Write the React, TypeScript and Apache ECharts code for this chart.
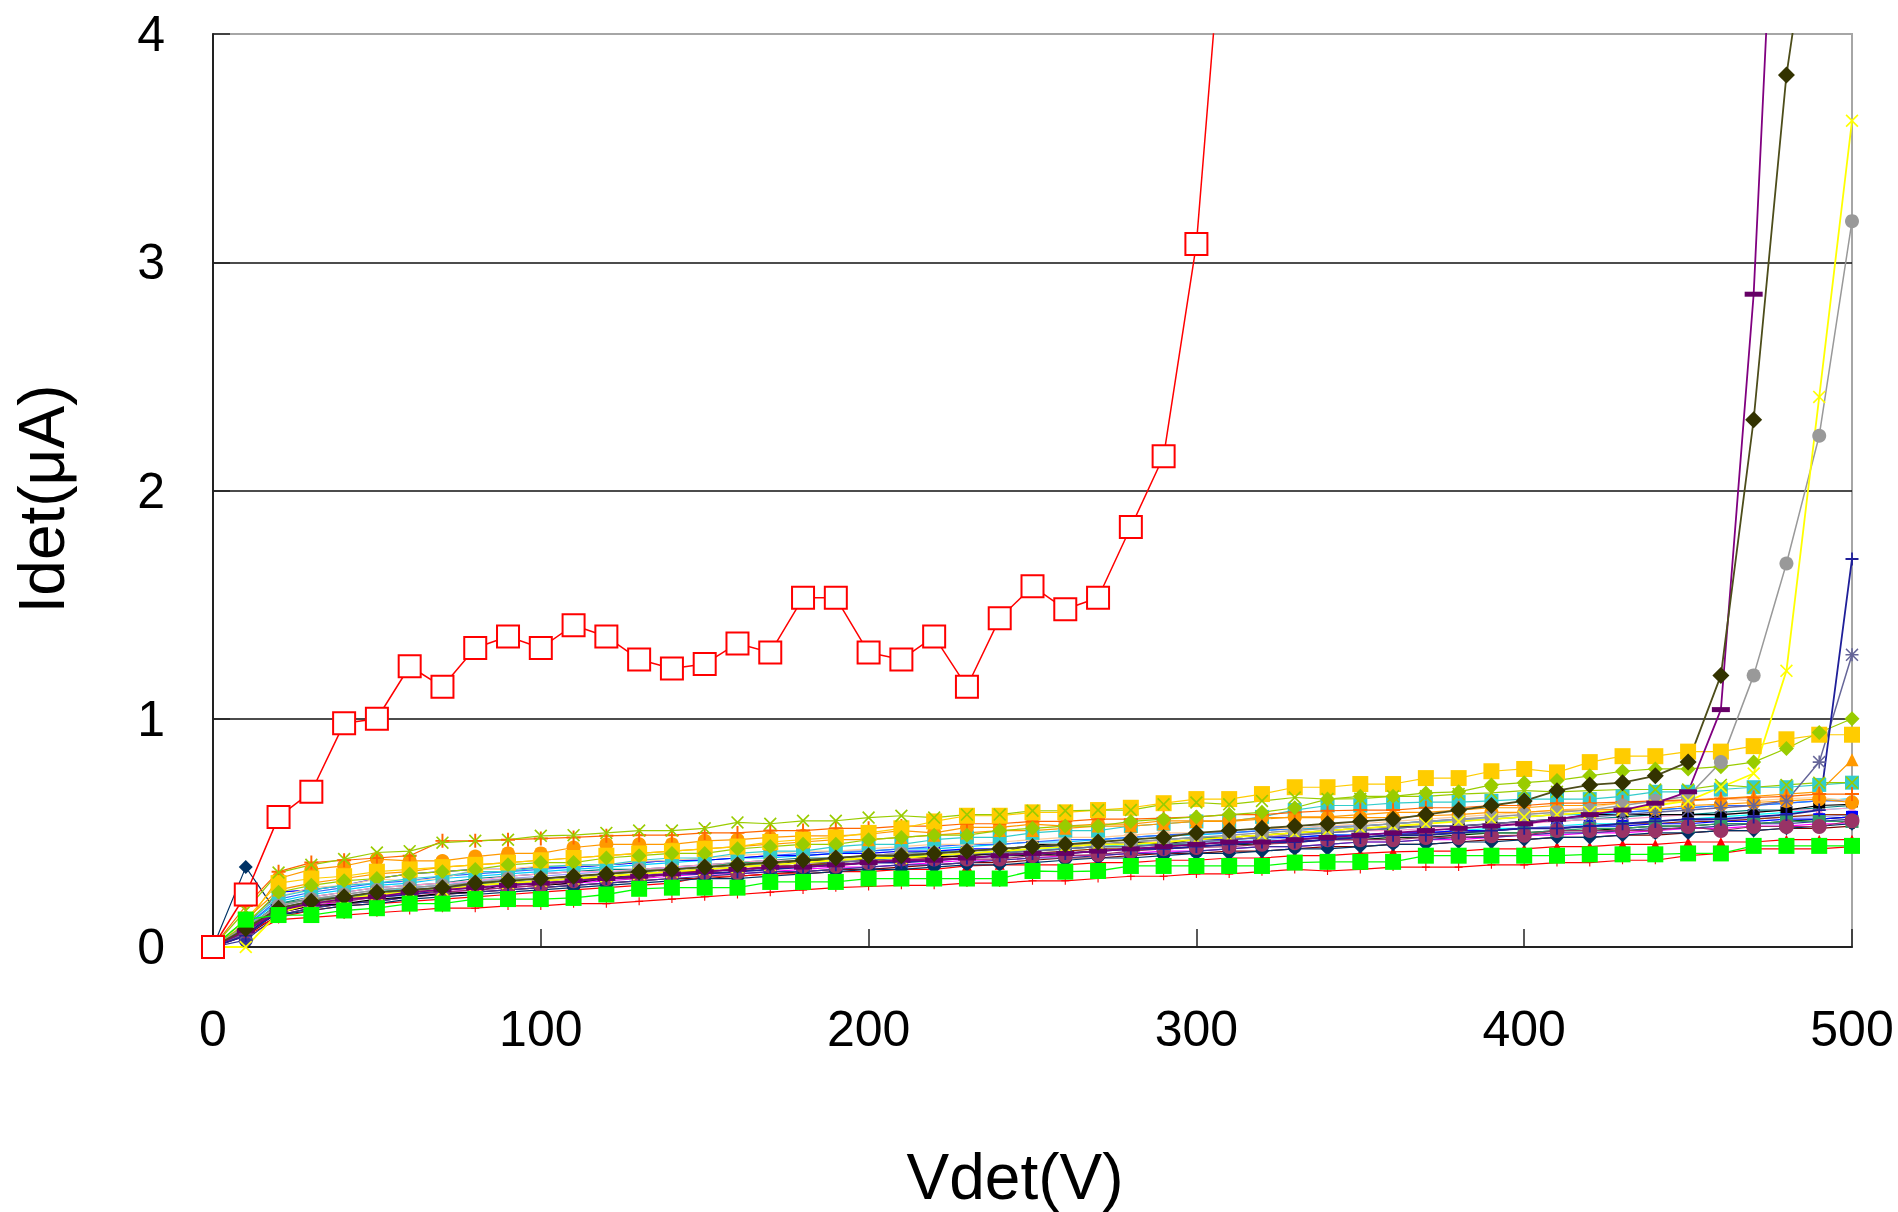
import React, { useEffect, useRef } from "react";
import * as echarts from "echarts";

// Vdet (V) sampling points
const X = [0,10,20,30,40,50,60,70,80,90,100,110,120,130,140,150,160,170,180,190,200,210,220,230,240,250,260,270,280,290,300,310,320,330,340,350,360,370,380,390,400,410,420,430,440,450,460,470,480,490,500];
const X_TICKS = [0, 100, 200, 300, 400, 500];
const Y_TICKS = [0, 1, 2, 3, 4];
const X_TITLE = "Vdet(V)";
const Y_TITLE = "Idet(μA)";

// Idet (uA) per detector
const redSq = [0,0.23,0.57,0.68,0.98,1.00,1.23,1.14,1.31,1.36,1.31,1.41,1.36,1.26,1.22,1.24,1.33,1.29,1.53,1.53,1.29,1.26,1.36,1.14,1.44,1.58,1.48,1.53,1.84,2.15,3.08,4.85];
const greenSq = [0,0.12,0.14,0.14,0.16,0.17,0.19,0.19,0.21,0.21,0.21,0.215,0.23,0.255,0.26,0.26,0.26,0.285,0.285,0.285,0.30,0.30,0.30,0.30,0.30,0.333,0.33,0.333,0.355,0.355,0.355,0.355,0.355,0.37,0.373,0.373,0.373,0.40,0.40,0.40,0.40,0.40,0.406,0.406,0.406,0.41,0.41,0.443,0.443,0.443,0.443];
const plum = [0,0.07,0.17,0.19,0.20,0.22,0.23,0.24,0.25,0.26,0.27,0.29,0.30,0.30,0.32,0.326,0.326,0.355,0.355,0.355,0.37,0.385,0.385,0.385,0.385,0.40,0.40,0.405,0.42,0.43,0.436,0.44,0.45,0.457,0.47,0.47,0.47,0.48,0.48,0.487,0.49,0.51,0.51,0.51,0.51,0.528,0.51,0.528,0.528,0.528,0.553];
const blackDash = [0,0.06,0.15,0.18,0.19,0.21,0.22,0.235,0.24,0.28,0.27,0.28,0.30,0.32,0.33,0.34,0.35,0.36,0.377,0.38,0.385,0.39,0.395,0.40,0.41,0.45,0.45,0.45,0.46,0.45,0.472,0.48,0.49,0.50,0.51,0.52,0.528,0.53,0.53,0.54,0.55,0.56,0.58,0.58,0.58,0.58,0.58,0.59,0.60,0.62,0.625];
const turq = [0,0.10,0.22,0.25,0.27,0.28,0.30,0.31,0.33,0.33,0.35,0.36,0.36,0.38,0.39,0.39,0.41,0.42,0.42,0.44,0.45,0.45,0.47,0.48,0.48,0.50,0.51,0.51,0.53,0.54,0.55,0.55,0.57,0.60,0.62,0.62,0.63,0.635,0.635,0.64,0.648,0.648,0.648,0.66,0.68,0.68,0.69,0.70,0.70,0.71,0.72];
const orangeCircle = [0,0.10,0.30,0.34,0.355,0.385,0.377,0.377,0.396,0.41,0.41,0.436,0.45,0.45,0.45,0.465,0.47,0.48,0.487,0.487,0.494,0.51,0.50,0.524,0.524,0.538,0.53,0.538,0.538,0.553,0.553,0.553,0.567,0.567,0.567,0.567,0.567,0.575,0.58,0.59,0.59,0.60,0.60,0.604,0.604,0.62,0.625,0.633,0.64,0.648,0.633];
const orangePlus = [0,0.18,0.33,0.37,0.38,0.39,0.40,0.465,0.465,0.47,0.475,0.48,0.487,0.49,0.49,0.50,0.50,0.51,0.51,0.52,0.52,0.53,0.53,0.54,0.54,0.55,0.55,0.56,0.56,0.565,0.57,0.58,0.58,0.59,0.597,0.60,0.60,0.61,0.61,0.62,0.62,0.63,0.63,0.635,0.64,0.645,0.65,0.655,0.66,0.67,0.67];
const limeX = [0,0.16,0.326,0.36,0.385,0.414,0.42,0.457,0.465,0.47,0.487,0.49,0.50,0.51,0.51,0.52,0.546,0.54,0.553,0.553,0.567,0.575,0.567,0.58,0.58,0.597,0.597,0.60,0.60,0.625,0.633,0.625,0.64,0.655,0.648,0.65,0.66,0.66,0.67,0.675,0.685,0.68,0.685,0.69,0.69,0.69,0.71,0.70,0.71,0.72,0.72];
const goldSq = [0,0.12,0.28,0.30,0.31,0.33,0.34,0.35,0.36,0.37,0.38,0.39,0.40,0.41,0.42,0.43,0.44,0.46,0.47,0.48,0.50,0.52,0.55,0.575,0.575,0.59,0.59,0.60,0.61,0.63,0.648,0.648,0.67,0.70,0.70,0.714,0.714,0.74,0.74,0.77,0.78,0.765,0.81,0.836,0.836,0.856,0.856,0.88,0.91,0.93,0.93];
const limeDiamond = [0,0.10,0.24,0.27,0.29,0.30,0.32,0.33,0.34,0.36,0.37,0.37,0.39,0.40,0.41,0.41,0.43,0.44,0.45,0.45,0.47,0.48,0.49,0.49,0.51,0.52,0.53,0.53,0.55,0.56,0.57,0.58,0.59,0.61,0.648,0.66,0.66,0.675,0.68,0.71,0.72,0.73,0.75,0.77,0.78,0.78,0.79,0.81,0.87,0.94,1.00];
const oliveDiamond = [0,0.08,0.17,0.20,0.22,0.24,0.25,0.26,0.28,0.29,0.30,0.31,0.32,0.33,0.34,0.35,0.36,0.37,0.38,0.39,0.40,0.40,0.41,0.42,0.43,0.44,0.45,0.46,0.47,0.48,0.50,0.51,0.52,0.53,0.54,0.55,0.56,0.58,0.60,0.62,0.64,0.685,0.71,0.72,0.75,0.81,1.19,2.31,3.82,4.80];
const purpleDash = [0,0.07,0.16,0.19,0.21,0.22,0.24,0.25,0.26,0.27,0.28,0.29,0.30,0.31,0.32,0.33,0.34,0.35,0.35,0.36,0.37,0.38,0.38,0.39,0.40,0.41,0.41,0.42,0.43,0.44,0.45,0.46,0.46,0.47,0.48,0.49,0.50,0.51,0.52,0.53,0.54,0.56,0.58,0.60,0.63,0.68,1.04,2.86,5.86];
const grayCircle = [0,0.09,0.18,0.21,0.23,0.25,0.26,0.27,0.28,0.30,0.30,0.31,0.32,0.34,0.34,0.35,0.36,0.37,0.38,0.39,0.40,0.41,0.41,0.42,0.43,0.44,0.45,0.45,0.46,0.47,0.48,0.49,0.50,0.51,0.52,0.53,0.54,0.55,0.56,0.57,0.58,0.59,0.60,0.62,0.64,0.66,0.81,1.19,1.68,2.24,3.18];
const yellowX = [0,0,0.15,0.19,0.21,0.23,0.24,0.25,0.27,0.28,0.29,0.30,0.31,0.32,0.33,0.34,0.35,0.36,0.37,0.38,0.39,0.39,0.40,0.41,0.42,0.43,0.44,0.45,0.45,0.46,0.47,0.48,0.49,0.50,0.51,0.52,0.53,0.54,0.55,0.56,0.57,0.58,0.59,0.60,0.62,0.64,0.70,0.76,1.21,2.41,3.62];
const navyPlus = [0,0.05,0.16,0.19,0.21,0.22,0.23,0.25,0.26,0.27,0.28,0.29,0.30,0.31,0.32,0.32,0.33,0.34,0.35,0.36,0.37,0.37,0.38,0.39,0.40,0.41,0.41,0.42,0.43,0.43,0.44,0.45,0.46,0.46,0.47,0.48,0.49,0.49,0.50,0.51,0.52,0.52,0.53,0.54,0.55,0.56,0.56,0.57,0.58,0.60,1.70];
const slateStar = [0,0.06,0.17,0.20,0.22,0.24,0.25,0.26,0.27,0.28,0.29,0.30,0.31,0.32,0.33,0.34,0.35,0.36,0.37,0.37,0.38,0.39,0.40,0.41,0.41,0.42,0.43,0.44,0.44,0.45,0.46,0.47,0.48,0.49,0.50,0.51,0.52,0.53,0.53,0.54,0.55,0.56,0.57,0.58,0.59,0.60,0.61,0.62,0.64,0.81,1.28];
const orangeTri = [0,0.12,0.25,0.28,0.30,0.32,0.33,0.35,0.36,0.37,0.38,0.39,0.40,0.41,0.42,0.43,0.44,0.45,0.46,0.47,0.47,0.48,0.49,0.50,0.51,0.51,0.52,0.53,0.53,0.54,0.55,0.55,0.56,0.57,0.57,0.58,0.59,0.59,0.60,0.61,0.61,0.62,0.62,0.63,0.64,0.64,0.65,0.66,0.67,0.68,0.82];
const navyDiamond = [0,0.35,0.14,0.16,0.18,0.19,0.21,0.22,0.23,0.24,0.25,0.26,0.27,0.28,0.29,0.30,0.30,0.31,0.32,0.33,0.34,0.34,0.35,0.36,0.36,0.37,0.38,0.39,0.39,0.40,0.41,0.41,0.42,0.43,0.43,0.44,0.45,0.45,0.46,0.46,0.47,0.48,0.48,0.49,0.50,0.50,0.51,0.51,0.52,0.53,0.54];
const indigoCircle = [0,0.03,0.14,0.17,0.19,0.20,0.22,0.23,0.24,0.25,0.26,0.27,0.28,0.29,0.30,0.31,0.32,0.33,0.33,0.34,0.35,0.36,0.36,0.37,0.38,0.39,0.39,0.40,0.41,0.41,0.42,0.43,0.44,0.44,0.45,0.46,0.46,0.47,0.48,0.48,0.49,0.50,0.50,0.51,0.52,0.52,0.53,0.54,0.54,0.55,0.56];
const blueSq = [0,0.09,0.24,0.25,0.27,0.30,0.32,0.33,0.34,0.34,0.35,0.35,0.36,0.37,0.38,0.38,0.39,0.40,0.40,0.41,0.41,0.42,0.42,0.43,0.43,0.44,0.44,0.45,0.45,0.46,0.47,0.47,0.48,0.48,0.49,0.49,0.50,0.50,0.51,0.51,0.52,0.52,0.53,0.53,0.54,0.54,0.55,0.55,0.56,0.56,0.57];
const peach = [0,0.11,0.22,0.26,0.27,0.297,0.29,0.30,0.34,0.34,0.355,0.355,0.36,0.375,0.38,0.39,0.40,0.41,0.42,0.42,0.43,0.44,0.45,0.45,0.46,0.47,0.48,0.48,0.49,0.50,0.50,0.51,0.52,0.52,0.53,0.54,0.55,0.56,0.57,0.58,0.59,0.60,0.61,0.633,0.633,0.64,0.65,0.64,0.65,0.655,0.64];
const seaGreenSq = [0,0.08,0.19,0.21,0.22,0.23,0.245,0.26,0.27,0.297,0.30,0.31,0.32,0.33,0.34,0.35,0.37,0.37,0.38,0.38,0.39,0.40,0.40,0.41,0.42,0.42,0.43,0.44,0.44,0.45,0.45,0.46,0.46,0.47,0.48,0.48,0.49,0.49,0.50,0.50,0.50,0.51,0.52,0.52,0.53,0.53,0.54,0.54,0.55,0.55,0.55];
const redTri = [0,0.07,0.13,0.16,0.18,0.19,0.20,0.21,0.22,0.23,0.24,0.25,0.26,0.27,0.28,0.31,0.31,0.32,0.32,0.33,0.33,0.34,0.34,0.355,0.36,0.36,0.36,0.37,0.37,0.38,0.38,0.39,0.39,0.40,0.40,0.41,0.417,0.42,0.42,0.43,0.43,0.44,0.44,0.45,0.45,0.46,0.46,0.46,0.47,0.47,0.47];
const redLow = [0,0.05,0.12,0.13,0.14,0.15,0.16,0.17,0.17,0.18,0.18,0.19,0.19,0.20,0.21,0.22,0.23,0.24,0.25,0.26,0.265,0.27,0.27,0.28,0.28,0.29,0.29,0.30,0.31,0.31,0.32,0.32,0.33,0.34,0.333,0.34,0.35,0.35,0.35,0.36,0.36,0.37,0.37,0.38,0.38,0.40,0.41,0.43,0.43,0.43,0.44];
const cyanLine = [0,0.07,0.17,0.20,0.22,0.24,0.26,0.27,0.28,0.29,0.30,0.31,0.32,0.33,0.34,0.35,0.36,0.36,0.37,0.38,0.39,0.40,0.40,0.41,0.42,0.43,0.43,0.44,0.45,0.45,0.46,0.46,0.47,0.48,0.49,0.49,0.50,0.50,0.51,0.52,0.52,0.53,0.54,0.54,0.55,0.56,0.57,0.58,0.59,0.60,0.61];
const magentaLine = [0,0.06,0.15,0.18,0.20,0.22,0.23,0.24,0.25,0.26,0.27,0.28,0.29,0.30,0.31,0.32,0.32,0.33,0.34,0.35,0.35,0.36,0.37,0.38,0.38,0.39,0.40,0.40,0.41,0.42,0.42,0.43,0.44,0.44,0.45,0.46,0.46,0.47,0.47,0.48,0.49,0.49,0.50,0.50,0.51,0.52,0.52,0.53,0.53,0.54,0.54];
const maroonLine = [0,0.05,0.14,0.17,0.19,0.20,0.22,0.23,0.24,0.25,0.26,0.27,0.28,0.29,0.30,0.30,0.31,0.32,0.33,0.34,0.34,0.35,0.36,0.37,0.37,0.38,0.39,0.39,0.40,0.41,0.41,0.42,0.42,0.43,0.44,0.44,0.45,0.45,0.46,0.47,0.47,0.48,0.48,0.49,0.49,0.50,0.51,0.51,0.52,0.52,0.53];
const tealLine = [0,0.08,0.19,0.22,0.24,0.26,0.27,0.28,0.30,0.31,0.32,0.33,0.34,0.34,0.35,0.36,0.37,0.38,0.39,0.39,0.40,0.41,0.42,0.42,0.43,0.44,0.45,0.45,0.46,0.47,0.48,0.48,0.49,0.50,0.50,0.51,0.52,0.53,0.53,0.54,0.55,0.55,0.56,0.57,0.58,0.58,0.59,0.60,0.60,0.61,0.62];
const skyLine = [0,0.09,0.20,0.23,0.25,0.27,0.28,0.30,0.31,0.32,0.33,0.34,0.35,0.36,0.37,0.38,0.39,0.39,0.40,0.41,0.42,0.43,0.43,0.44,0.45,0.46,0.46,0.47,0.48,0.49,0.49,0.50,0.51,0.52,0.52,0.53,0.54,0.55,0.55,0.56,0.57,0.58,0.58,0.59,0.60,0.61,0.62,0.62,0.63,0.64,0.65];
const lavenderLine = [0,0.07,0.18,0.21,0.23,0.25,0.26,0.27,0.29,0.30,0.31,0.32,0.33,0.33,0.35,0.35,0.36,0.37,0.38,0.38,0.39,0.40,0.40,0.41,0.42,0.42,0.43,0.44,0.44,0.45,0.46,0.46,0.47,0.48,0.48,0.49,0.50,0.50,0.51,0.51,0.52,0.53,0.53,0.54,0.54,0.55,0.56,0.56,0.57,0.57,0.58];
const forestLine = [0,0.06,0.16,0.19,0.21,0.23,0.24,0.25,0.27,0.28,0.29,0.30,0.30,0.31,0.32,0.33,0.34,0.35,0.36,0.36,0.37,0.38,0.38,0.39,0.40,0.40,0.41,0.42,0.43,0.43,0.44,0.45,0.45,0.46,0.47,0.47,0.48,0.48,0.49,0.50,0.50,0.51,0.51,0.52,0.53,0.53,0.54,0.54,0.55,0.56,0.57];
const brownLine = [0,0.07,0.17,0.19,0.21,0.23,0.25,0.26,0.27,0.28,0.29,0.30,0.31,0.32,0.33,0.33,0.34,0.35,0.36,0.37,0.38,0.38,0.39,0.40,0.41,0.41,0.42,0.43,0.43,0.44,0.45,0.46,0.46,0.47,0.48,0.48,0.49,0.50,0.50,0.51,0.52,0.52,0.53,0.54,0.54,0.55,0.55,0.56,0.57,0.58,0.58];
const royalLine = [0,0.09,0.21,0.24,0.26,0.28,0.29,0.31,0.32,0.33,0.34,0.35,0.36,0.37,0.38,0.38,0.39,0.40,0.41,0.42,0.42,0.43,0.44,0.45,0.45,0.46,0.47,0.47,0.48,0.49,0.50,0.50,0.51,0.52,0.53,0.53,0.54,0.55,0.56,0.56,0.57,0.58,0.59,0.59,0.60,0.61,0.62,0.62,0.63,0.64,0.64];
const pinkLine = [0,0.08,0.18,0.22,0.24,0.26,0.27,0.28,0.29,0.31,0.32,0.33,0.33,0.34,0.35,0.36,0.37,0.38,0.38,0.39,0.40,0.41,0.41,0.42,0.43,0.44,0.44,0.45,0.46,0.46,0.47,0.48,0.49,0.49,0.50,0.51,0.51,0.52,0.53,0.54,0.54,0.55,0.56,0.56,0.57,0.58,0.58,0.59,0.60,0.60,0.61];

const SYM_X = "path://M0,0.9L0.9,0L5,4.1L9.1,0L10,0.9L5.9,5L10,9.1L9.1,10L5,5.9L0.9,10L0,9.1L4.1,5Z";
const SYM_PLUS = "path://M4.3,0H5.7V4.3H10V5.7H5.7V10H4.3V5.7H0V4.3H4.3Z";
const SYM_STAR = "path://M4.4,0H5.6V4.4H10V5.6H5.6V10H4.4V5.6H0V4.4H4.4Z M0,0.8L0.8,0L5,4.2L9.2,0L10,0.8L5.8,5L10,9.2L9.2,10L5,5.8L0.8,10L0,9.2L4.2,5Z";

type Spec = { name: string; data: number[]; color: string; symbol: string; size: number | number[]; width: number; fill?: string; border?: number };

const SPECS: Spec[] = [
  { name: "cyan", data: cyanLine, color: "#00FFFF", symbol: "triangle", size: 6, width: 1.2 },
  { name: "magenta", data: magentaLine, color: "#FF00FF", symbol: "rect", size: 6, width: 1.2 },
  { name: "maroon", data: maroonLine, color: "#800000", symbol: "triangle", size: 6, width: 1.2 },
  { name: "teal", data: tealLine, color: "#008080", symbol: "circle", size: 6, width: 1.2 },
  { name: "sky", data: skyLine, color: "#00CCFF", symbol: "rect", size: 6, width: 1.2 },
  { name: "lavender", data: lavenderLine, color: "#9999FF", symbol: SYM_STAR, size: 9, width: 1.2 },
  { name: "forest", data: forestLine, color: "#003300", symbol: "diamond", size: 7, width: 1.2 },
  { name: "brown", data: brownLine, color: "#993300", symbol: "rect", size: 6, width: 1.2 },
  { name: "royal", data: royalLine, color: "#3366FF", symbol: SYM_X, size: 9, width: 1.2 },
  { name: "pink", data: pinkLine, color: "#FF99CC", symbol: "triangle", size: 7, width: 1.2 },
  { name: "redLow", data: redLow, color: "#FF0000", symbol: SYM_PLUS, size: 8, width: 1.2 },
  { name: "redTri", data: redTri, color: "#FF0000", symbol: "triangle", size: 10, width: 1.2 },
  { name: "indigo", data: indigoCircle, color: "#333399", symbol: "circle", size: 14, width: 1.2 },
  { name: "navyDiamond", data: navyDiamond, color: "#003366", symbol: "diamond", size: 14, width: 1.2 },
  { name: "blueSq", data: blueSq, color: "#0000FF", symbol: "rect", size: 12, width: 1.2 },
  { name: "seaGreen", data: seaGreenSq, color: "#339966", symbol: "rect", size: 13, width: 1.2 },
  { name: "peach", data: peach, color: "#FFCC99", symbol: "diamond", size: 15, width: 1.2 },
  { name: "black", data: blackDash, color: "#000000", symbol: "rect", size: [12, 6], width: 1.2 },
  { name: "plum", data: plum, color: "#993366", symbol: "circle", size: 15, width: 1.2 },
  { name: "turq", data: turq, color: "#33CCCC", symbol: "rect", size: 14, width: 1.2 },
  { name: "orangeTri", data: orangeTri, color: "#FF9900", symbol: "triangle", size: 13, width: 1.2 },
  { name: "orangeCircle", data: orangeCircle, color: "#FF9900", symbol: "circle", size: 14, width: 1.2 },
  { name: "orangePlus", data: orangePlus, color: "#FF6600", symbol: SYM_PLUS, size: 14, width: 1.2 },
  { name: "goldSq", data: goldSq, color: "#FFCC00", symbol: "rect", size: 16, width: 1.2 },
  { name: "limeDiamond", data: limeDiamond, color: "#99CC00", symbol: "diamond", size: 15, width: 1.2 },
  { name: "limeX", data: limeX, color: "#99CC00", symbol: SYM_X, size: 13, width: 1.2 },
  { name: "slate", data: slateStar, color: "#666699", symbol: SYM_STAR, size: 13, width: 1.5 },
  { name: "navyPlus", data: navyPlus, color: "#1F1F99", symbol: SYM_PLUS, size: 13, width: 1.8 },
  { name: "gray", data: grayCircle, color: "#999999", symbol: "circle", size: 14, width: 1.5 },
  { name: "yellow", data: yellowX, color: "#FFFF00", symbol: SYM_X, size: 13, width: 1.8 },
  { name: "purple", data: purpleDash, color: "#800080", symbol: "rect", size: [18, 5], width: 1.8, fill: "#660066" },
  { name: "olive", data: oliveDiamond, color: "#4D4D1A", symbol: "diamond", size: 17, width: 1.8, fill: "#333300" },
  { name: "green", data: greenSq, color: "#00FF00", symbol: "rect", size: 16, width: 1.3 },
  { name: "redSq", data: redSq, color: "#FF0000", symbol: "rect", size: 22, width: 1.5, fill: "#FFFFFF", border: 2 },
];

const FONT = "'Liberation Sans', Arial, sans-serif";

export default function App() {
  const ref = useRef<HTMLDivElement>(null);
  useEffect(() => {
    if (!ref.current) return;
    const chart = echarts.init(ref.current, undefined, { renderer: "svg" });
    const series = SPECS.map((s) => ({
      name: s.name,
      type: "line",
      data: s.data.map((v, i) => [X[i], v]),
      symbol: s.symbol,
      symbolSize: s.size,
      showAllSymbol: true,
      clip: true,
      lineStyle: { color: s.color, width: s.width },
      itemStyle: s.border
        ? { color: s.fill, borderColor: s.color, borderWidth: s.border }
        : { color: s.fill || s.color, borderWidth: 0 },
      emphasis: { disabled: true },
    }));
    chart.setOption({
      animation: false,
      backgroundColor: "#ffffff",
      grid: {
        left: 213, right: 46, top: 34, bottom: 265,
        show: true, borderColor: "#a6a6a6", borderWidth: 2, backgroundColor: "transparent",
      },
      xAxis: {
        type: "value", min: X_TICKS[0], max: X_TICKS[X_TICKS.length - 1], interval: 100,
        axisLine: { show: true, onZero: false, lineStyle: { color: "#222", width: 2 } },
        axisTick: { show: true, inside: true, length: 18, lineStyle: { color: "#222", width: 1.5 } },
        axisLabel: { fontSize: 50, color: "#000", margin: 57, fontFamily: FONT },
        splitLine: { show: false },
      },
      yAxis: {
        type: "value", min: Y_TICKS[0], max: Y_TICKS[Y_TICKS.length - 1], interval: 1,
        axisLine: { show: true, lineStyle: { color: "#222", width: 2 } },
        axisTick: { show: true, inside: true, length: 17, lineStyle: { color: "#222", width: 1.5 } },
        axisLabel: { fontSize: 50, color: "#000", margin: 48, fontFamily: FONT },
        splitLine: { show: true, lineStyle: { color: ["#111", "#111", "#111", "#111", "#a6a6a6"], width: 1.5 } },
      },
      graphic: [
        {
          type: "text", x: 1015, y: 1177,
          style: { text: X_TITLE, fontSize: 64, fontFamily: FONT, fill: "#000", align: "center", verticalAlign: "middle" },
        },
        {
          type: "text", x: 42, y: 499, rotation: Math.PI / 2,
          style: { text: Y_TITLE, fontSize: 64, fontFamily: FONT, fill: "#000", align: "center", verticalAlign: "middle" },
        },
      ],
      series,
    });
    return () => chart.dispose();
  }, []);
  return <div ref={ref} style={{ position: "fixed", left: 0, top: 0, width: 1898, height: 1212, background: "#fff" }} />;
}
